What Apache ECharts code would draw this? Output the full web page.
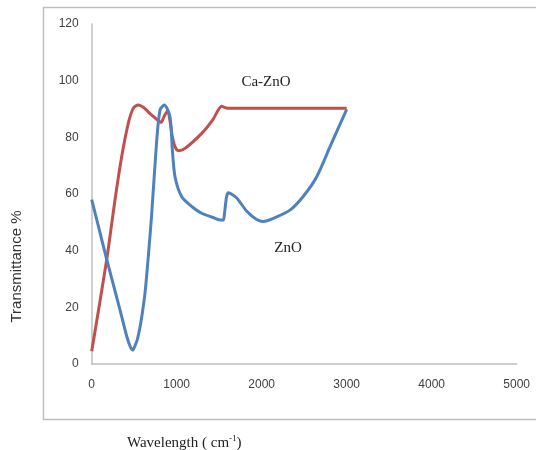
<!DOCTYPE html>
<html>
<head>
<meta charset="utf-8">
<script src="https://cdn.jsdelivr.net/npm/echarts@6/dist/echarts.min.js"></script>
<style>
html,body{margin:0;padding:0;background:#fff;}
#chart{width:536px;height:450px;}
</style>
</head>
<body>
<div id="chart"></div>
<script>
// Data
var seriesNames = ['ZnO', 'Ca-ZnO'];
var xTicks = [0, 1000, 2000, 3000, 4000, 5000];
var yTicks = [0, 20, 40, 60, 80, 100, 120];

var znoX = [0, 59, 176, 332, 412, 455, 482, 510, 540, 580, 627, 666, 706, 765, 804, 855, 921, 949, 980, 1059, 1180, 1294, 1420, 1509, 1548, 1562, 1585, 1607, 1706, 1824, 1941, 2019, 2137, 2333, 2490, 2647, 2804, 3000];
var znoY = [58, 51, 37, 19.2, 9.8, 6, 4.9, 6.5, 9, 15, 25, 38, 53, 79, 89.7, 91.4, 87.3, 75.5, 66.1, 59, 55.5, 53.2, 51.8, 50.8, 50.8, 53, 58.8, 60.4, 58.6, 53.9, 51, 50.3, 51.4, 54.3, 59.2, 66.1, 76.7, 89.9];

var caX = [0, 176, 274, 353, 431, 490, 548, 607, 700, 800, 818, 850, 894, 920, 949, 980, 1019, 1098, 1294, 1420, 1529, 1560, 1600, 2000, 2500, 3000];
var caY = [4.5, 36.7, 57.9, 73.2, 85, 90.3, 91.4, 90.6, 88, 85.5, 85.3, 87.3, 89.4, 86, 80.2, 76.7, 75.3, 76.1, 81.4, 86, 91, 90.6, 90.3, 90.3, 90.3, 90.3];

function pairs(xs, ys) {
  var out = [];
  for (var i = 0; i < xs.length; i++) out.push([xs[i], ys[i]]);
  return out;
}

var chart = echarts.init(document.getElementById('chart'), null, {renderer: 'canvas'});
var axisFont = {fontFamily: 'Liberation Sans', fontSize: 12, color: '#404040'};
chart.setOption({
  animation: false,
  backgroundColor: '#ffffff',
  grid: {left: 91.7, right: 19.3, top: 24, bottom: 86, containLabel: false},
  xAxis: {
    type: 'value', min: xTicks[0], max: xTicks[xTicks.length - 1], interval: 1000,
    axisLine: {show: true, lineStyle: {color: '#bfbfbf', width: 1.5}},
    axisTick: {show: false},
    splitLine: {show: false},
    axisLabel: Object.assign({margin: 15, formatter: function (v) { return String(v); }}, axisFont)
  },
  yAxis: {
    type: 'value', min: yTicks[0], max: yTicks[yTicks.length - 1], interval: 20,
    axisLine: {show: true, lineStyle: {color: '#bfbfbf', width: 1.5}},
    axisTick: {show: false},
    splitLine: {show: false},
    axisLabel: Object.assign({margin: 13, formatter: function (v) { return String(v); }}, axisFont)
  },
  series: [
    {
      name: seriesNames[0], type: 'line', data: pairs(znoX, znoY),
      smooth: 0.25, showSymbol: false, symbol: 'none',
      lineStyle: {color: '#4F81BD', width: 3}, z: 3
    },
    {
      name: seriesNames[1], type: 'line', data: pairs(caX, caY),
      smooth: 0.25, showSymbol: false, symbol: 'none',
      lineStyle: {color: '#C0504D', width: 3}, z: 2
    }
  ],
  graphic: [
    {type: 'rect', z: -10, silent: true,
     shape: {x: 43.5, y: 7.5, width: 600, height: 412},
     style: {fill: 'none', stroke: '#bfbfbf', lineWidth: 1.5}},
    {type: 'text', x: 266, y: 82, silent: true,
     style: {text: seriesNames[1], font: '15px "Liberation Serif"', fill: '#222', textAlign: 'center', textVerticalAlign: 'middle'}},
    {type: 'text', x: 288, y: 248, silent: true,
     style: {text: seriesNames[0], font: '15px "Liberation Serif"', fill: '#222', textAlign: 'center', textVerticalAlign: 'middle'}},
    {type: 'text', x: 16.5, y: 266.5, rotation: Math.PI / 2, silent: true,
     style: {text: 'Transmittance %', font: '15px "Liberation Sans"', fill: '#333', textAlign: 'center', textVerticalAlign: 'middle'}},
    {type: 'text', x: 127, y: 442.6, silent: true,
     style: {
       rich: {
         n: {fontFamily: 'Liberation Serif', fontSize: 15, fill: '#222'},
         s: {fontFamily: 'Liberation Serif', fontSize: 9, fill: '#222', verticalAlign: 'top', padding: [0, 0, 8, 0]}
       },
       text: '{n|Wavelength ( cm}{s|-1}{n|)}',
       textVerticalAlign: 'middle'
     }}
  ]
});
</script>
</body>
</html>
